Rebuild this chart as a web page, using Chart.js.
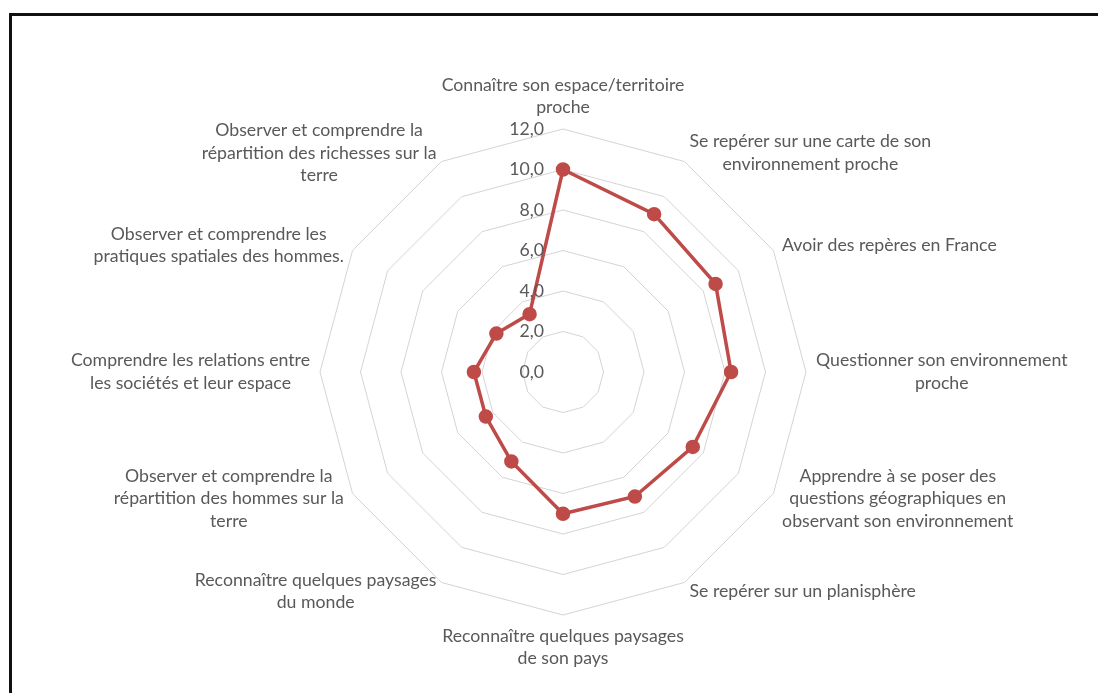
<!DOCTYPE html>
<html lang="fr">
<head>
<meta charset="utf-8">
<title>Radar compétences géographie</title>
<script src="https://cdn.jsdelivr.net/npm/chart.js@4.4.1/dist/chart.umd.min.js"></script>
<style>
  html, body { margin: 0; padding: 0; background: #fff; }
  #wrap { position: relative; width: 1098px; height: 693px; overflow: hidden; }
  #cadre {
    position: absolute; left: 9px; top: 13px; width: 1200px; height: 800px;
    border-top: 3px solid #111; border-left: 3px solid #111;
  }
  #radar { position: absolute; left: 0; top: 0; }
</style>
</head>
<body>
<div id="wrap">
  <div id="cadre"></div>
  <canvas id="radar" width="1098" height="693"></canvas>
</div>
<script>
// --- DONNÉES ---
const competences = [
    ["Connaître son espace/territoire", "proche"],
    ["Se repérer sur une carte de son", "environnement proche"],
    ["Avoir des repères en France"],
    ["Questionner son environnement", "proche"],
    ["Apprendre à se poser des", "questions géographiques en", "observant son environnement"],
    ["Se repérer sur un planisphère"],
    ["Reconnaître quelques paysages", "de son pays"],
    ["Reconnaître quelques paysages", "du monde"],
    ["Observer et comprendre la", "répartition des hommes sur la", "terre"],
    ["Comprendre les relations entre", "les sociétés et leur espace"],
    ["Observer et comprendre les", "pratiques spatiales des hommes."],
    ["Observer et comprendre la", "répartition des richesses sur la", "terre"]
];
const moyennes = [10.0, 9.0, 8.7, 8.3, 7.4, 7.1, 7.0, 5.1, 4.4, 4.4, 3.8, 3.3];
const graduations = ["0,0", "2,0", "4,0", "6,0", "8,0", "10,0", "12,0"];

const ROUGE = '#be4b48';
const GRIS_TEXTE = '#595959';
const POLICE = '17.7px Lato, "Liberation Sans", sans-serif';
const INTERLIGNE = 22.5;

// Libellés des axes + graduations dessinés à la main (style Excel)
const libellesRadar = {
    id: 'libellesRadar',
    afterDraw(chart) {
        const scale = chart.scales.r;
        const ctx = chart.ctx;
        ctx.save();
        ctx.font = POLICE;
        ctx.fillStyle = GRIS_TEXTE;
        ctx.textBaseline = 'middle';

        // graduations à gauche de l'axe vertical
        ctx.textAlign = 'right';
        scale.ticks.forEach((tick, i) => {
            const y = scale.yCenter - scale.getDistanceFromCenterForValue(tick.value);
            ctx.fillText(graduations[i], scale.xCenter - 19, y);
        });

        // libellés des catégories
        ctx.textAlign = 'center';
        competences.forEach((lignes, i) => {
            const a = scale.getIndexAngle(i);
            const pos = scale.getPointPosition(i, scale.drawingArea + 10);
            const s = Math.sin(a), c = Math.cos(a);
            const w = Math.max(...lignes.map(l => ctx.measureText(l).width));
            const h = lignes.length * INTERLIGNE;
            let cx, haut;
            if (Math.abs(s) < 0.05) {
                cx = pos.x;
                haut = c > 0 ? pos.y - h : pos.y;
            } else {
                cx = s > 0 ? pos.x + w / 2 : pos.x - w / 2;
                haut = pos.y - h / 2;
            }
            lignes.forEach((l, k) => ctx.fillText(l, cx, haut + INTERLIGNE * (k + 0.5)));
        });
        ctx.restore();
    }
};

const ctx = document.getElementById('radar').getContext('2d');
new Chart(ctx, {
    type: 'radar',
    data: {
        labels: competences.map(l => l.join(' ')),
        datasets: [{
            data: moyennes,
            borderColor: ROUGE,
            backgroundColor: ROUGE,
            pointBackgroundColor: ROUGE,
            pointBorderColor: ROUGE,
            borderWidth: 3.5,
            pointRadius: 5.5,
            fill: false,
            tension: 0
        }]
    },
    options: {
        responsive: false,
        animation: false,
        layout: { padding: { left: 320, right: 292, top: 129, bottom: 78 } },
        plugins: { legend: { display: false }, tooltip: { enabled: false } },
        scales: {
            r: {
                min: 0,
                max: 12,
                ticks: { stepSize: 2, display: false },
                grid: { color: '#d4d4d4', lineWidth: 1 },
                angleLines: { display: false },
                pointLabels: { display: false }
            }
        }
    },
    plugins: [libellesRadar]
});
</script>
</body>
</html>
